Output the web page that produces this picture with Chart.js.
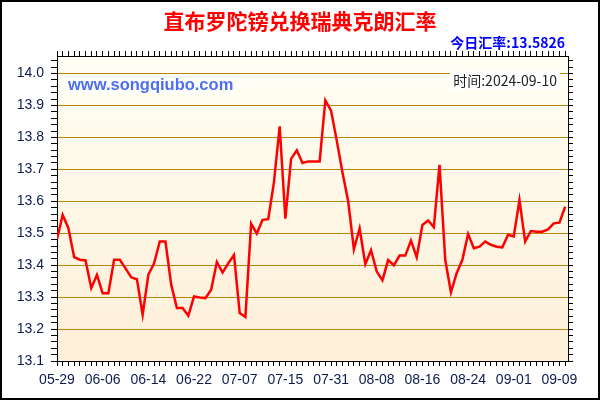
<!DOCTYPE html>
<html>
<head>
<meta charset="utf-8">
<script src="https://cdn.jsdelivr.net/npm/chart.js@4.4.1/dist/chart.umd.min.js"></script>
<style>
html, body { margin: 0; padding: 0; background: #fff; }
</style>
</head>
<body>
<canvas id="rateChart" width="600" height="400"></canvas>
<script>
const titleText = '直布罗陀镑兑换瑞典克朗汇率';
const todayText = '今日汇率:13.5826';
const siteText = 'www.songqiubo.com';
const timeText = '时间:2024-09-10';

const dates = [
    '05-29','05-30','05-31','06-01','06-02','06-03','06-04','06-05',
    '06-06','06-07','06-08','06-09','06-10','06-11','06-12','06-13',
    '06-14','06-15','06-16','06-17','06-18','06-19','06-20','06-21',
    '06-22','06-23','06-24','06-25','06-26','06-27','07-05','07-06',
    '07-07','07-08','07-09','07-10','07-11','07-12','07-13','07-14',
    '07-15','07-16','07-17','07-18','07-19','07-20','07-29','07-30',
    '07-31','08-01','08-02','08-03','08-04','08-05','08-06','08-07',
    '08-08','08-09','08-10','08-11','08-12','08-13','08-14','08-15',
    '08-16','08-17','08-18','08-19','08-20','08-21','08-22','08-23',
    '08-24','08-25','08-26','08-27','08-28','08-29','08-30','08-31',
    '09-01','09-02','09-03','09-04','09-05','09-06','09-07','09-08',
    '09-09','09-10'
];

const rates = [
    13.481, 13.557, 13.516, 13.425, 13.417, 13.415, 13.328, 13.370,
    13.312, 13.312, 13.417, 13.417, 13.390, 13.362, 13.356, 13.245,
    13.370, 13.406, 13.474, 13.474, 13.339, 13.266, 13.266, 13.242,
    13.302, 13.299, 13.297, 13.323, 13.410, 13.377, 13.406, 13.432,
    13.250, 13.238, 13.530, 13.499, 13.542, 13.544, 13.660, 13.835,
    13.546, 13.733, 13.760, 13.720, 13.725, 13.725, 13.725, 13.916,
    13.884, 13.790, 13.690, 13.600, 13.450, 13.515, 13.403, 13.447,
    13.380, 13.353, 13.416, 13.400, 13.430, 13.430, 13.477, 13.425,
    13.526, 13.540, 13.519, 13.714, 13.417, 13.315, 13.375, 13.417,
    13.498, 13.453, 13.458, 13.474, 13.464, 13.458, 13.456, 13.495,
    13.490, 13.604, 13.474, 13.507, 13.505, 13.505, 13.512, 13.531,
    13.533, 13.583
];

const yMin = 13.1, yMax = 14.055, yStep = 0.02;
const labelEvery = 8;

const fontFamily = '"Liberation Sans", Arial, sans-serif';
const cjkFamily = '"Noto Sans CJK SC", "Liberation Sans", sans-serif';
const axisText = '#0d1b4f';
const gridGold = '#b8860b';

function isMajorY(v) {
    return Math.round(v * 50) % 5 === 0;
}

const decor = {
    id: 'decor',
    beforeDraw(chart) {
        const { ctx, chartArea: a } = chart;
        ctx.save();
        ctx.fillStyle = '#fff';
        ctx.fillRect(0, 0, chart.width, chart.height);
        const g = ctx.createLinearGradient(0, a.top, 0, a.bottom);
        g.addColorStop(0, '#fffff4');
        g.addColorStop(1, '#fdefd8');
        ctx.fillStyle = g;
        ctx.fillRect(a.left, a.top, a.right - a.left, a.bottom - a.top);
        ctx.restore();
    },
    afterDraw(chart) {
        const { ctx, chartArea: a } = chart;
        ctx.save();
        // title
        ctx.fillStyle = '#ff0000';
        ctx.font = 'bold 21px ' + cjkFamily;
        ctx.textAlign = 'center';
        ctx.textBaseline = 'middle';
        ctx.fillText(titleText, 300, 21);
        // today's rate
        ctx.fillStyle = '#0000ff';
        ctx.font = 'bold 14px ' + cjkFamily;
        ctx.textAlign = 'right';
        ctx.fillText(todayText, 565, 43);
        // site watermark
        ctx.font = 'bold 16.5px ' + fontFamily;
        ctx.textAlign = 'left';
        const sw = ctx.measureText(siteText).width;
        ctx.fillStyle = 'rgba(255,255,250,0.9)';
        ctx.fillRect(66, 76, sw + 4, 18);
        ctx.fillStyle = '#4d6ef2';
        ctx.fillText(siteText, 68, 85);
        // time stamp
        ctx.font = '14px ' + cjkFamily;
        ctx.textAlign = 'right';
        const tw = ctx.measureText(timeText).width;
        ctx.fillStyle = '#ffffff';
        ctx.fillRect(557 - tw - 3, 71, tw + 6, 19);
        ctx.fillStyle = '#222';
        ctx.fillText(timeText, 557, 81);
        // outer frame
        ctx.strokeStyle = '#000';
        ctx.lineWidth = 2;
        ctx.strokeRect(1, 1, chart.width - 2, chart.height - 2);
        ctx.restore();
    }
};

const tickOnlyGrid = {
    drawOnChartArea: false,
    color: '#000',
    tickColor: '#000',
    tickLength: 5
};

const ctx = document.getElementById('rateChart').getContext('2d');
const rateChart = new Chart(ctx, {
    type: 'line',
    data: {
        datasets: [{
            data: rates.map((r, i) => ({ x: i, y: r })),
            borderColor: '#ff0000',
            borderWidth: 2.5,
            pointRadius: 0,
            tension: 0,
            fill: false
        }]
    },
    options: {
        responsive: false,
        animation: false,
        layout: { padding: 0 },
        plugins: {
            legend: { display: false },
            tooltip: { enabled: false }
        },
        scales: {
            x: {
                type: 'linear',
                position: 'bottom',
                min: 0,
                max: 89.5,
                grid: tickOnlyGrid,
                border: { color: '#000', width: 1 },
                ticks: {
                    stepSize: 1,
                    autoSkip: false,
                    includeBounds: false,
                    maxRotation: 0,
                    padding: 6,
                    color: axisText,
                    font: { family: fontFamily, size: 14 },
                    callback: v => (Number.isInteger(v) && v % labelEvery === 0) ? dates[v] : ''
                },
                afterFit: s => { s.height = 39; }
            },
            x2: {
                type: 'linear',
                position: 'top',
                min: 0,
                max: 89.5,
                grid: tickOnlyGrid,
                border: { color: '#000', width: 1 },
                ticks: { stepSize: 1, autoSkip: false, includeBounds: false, callback: () => '' },
                afterFit: s => { s.height = 56; }
            },
            y: {
                position: 'left',
                min: yMin,
                max: yMax,
                grid: {
                    color: c => isMajorY(c.tick.value) ? gridGold : 'rgba(0,0,0,0)',
                    tickColor: '#000',
                    tickLength: 6,
                    lineWidth: 1
                },
                border: { color: '#000', width: 1 },
                ticks: {
                    stepSize: yStep,
                    autoSkip: false,
                    includeBounds: false,
                    padding: 7,
                    color: axisText,
                    font: { family: fontFamily, size: 14 },
                    callback: v => isMajorY(v) ? v.toFixed(1) : ''
                },
                afterFit: s => { s.width = 57; }
            },
            y2: {
                position: 'right',
                min: yMin,
                max: yMax,
                grid: tickOnlyGrid,
                border: { color: '#000', width: 1 },
                ticks: { stepSize: yStep, autoSkip: false, includeBounds: false, callback: () => '' },
                afterFit: s => { s.width = 32; }
            }
        }
    },
    plugins: [decor]
});
</script>
</body>
</html>
